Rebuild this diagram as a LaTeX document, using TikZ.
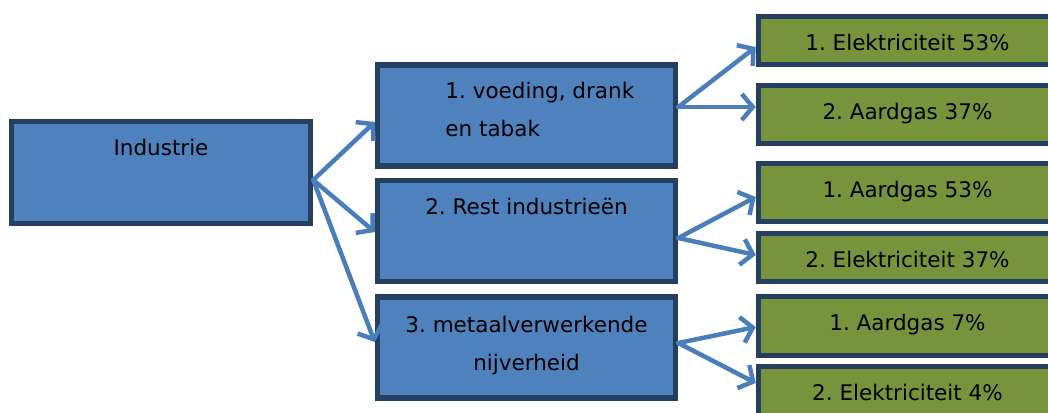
\documentclass[tikz,border=0pt]{standalone}
\usepackage{fontspec}
\setmainfont{DejaVu Sans}
\usepackage{xcolor}
\usetikzlibrary{arrows.meta, positioning}
\definecolor{boxblue}{HTML}{4F81BD}
\definecolor{boxedge}{HTML}{243F60}
\definecolor{boxgreen}{HTML}{77933C}
\definecolor{arrowblue}{HTML}{4A7EBB}
\frenchspacing

\begin{document}
\begin{tikzpicture}[x=1pt, y=-1pt,
  blok/.style={draw=boxedge, line width=5.5pt, minimum width=298pt, inner sep=0pt},
  sector/.style={blok, fill=boxblue, minimum height=101pt},
  bron/.style={blok, fill=boxgreen},
  tekst/.style={anchor=base, inner sep=0pt, font=\fontsize{21.5}{38}\selectfont},
  pijl/.style={draw=arrowblue, line width=4.5pt, line cap=round, -{Straight Barb[length=11pt, width=26pt]}}]
\useasboundingbox (0,0) rectangle (1048,412);
\clip (0,0) rectangle (1048,412);
% industrie
\node[blok, fill=boxblue, minimum width=299pt, minimum height=102pt] (ind) at (161,172.5) {};
\node[tekst] (indtxt) at ([yshift=-36.5pt]ind.north) {Industrie};
% sectoren
\node[sector] (voed) at (526.5,115.5) {};
\node[sector] (rest) at (526.5,231) {};
\node[sector] (metaal) at (526.5,347.5) {};
\node[tekst, anchor=base west, align=left] (voedtxt) at ([xshift=70.5pt, yshift=-74.5pt]voed.north west) {1. voeding, drank\\en tabak};
\node[tekst] (resttxt) at ([yshift=-36.5pt]rest.north) {2. Rest industrieën};
\node[tekst, align=center] (metaaltxt) at ([yshift=-76.5pt]metaal.north) {3. metaalverwerkende\\nijverheid};
% energiebronnen
\node[bron, minimum height=48pt] (v1) at (907.5,40.5) {};
\node[bron, minimum height=58pt] (v2) at (907.5,114.5) {};
\node[bron, minimum height=58pt] (r1) at (907.5,192.5) {};
\node[bron, minimum height=48pt] (r2) at (907.5,257.5) {};
\node[bron, minimum height=59pt] (m1) at (907.5,326) {};
\node[bron, minimum height=58pt] (m2) at (907.5,395.5) {};
\node[tekst] (v1txt) at ([yshift=-36.5pt]v1.north) {1. Elektriciteit 53\%};
\node[tekst] (v2txt) at ([yshift=-36.5pt]v2.north) {2. Aardgas 37\%};
\node[tekst] (r1txt) at ([yshift=-36.5pt]r1.north) {1. Aardgas 53\%};
\node[tekst] (r2txt) at ([yshift=-36.5pt]r2.north) {2. Elektriciteit 37\%};
\node[tekst] (m1txt) at ([yshift=-36.5pt]m1.north) {1. Aardgas 7\%};
\node[tekst] (m2txt) at ([yshift=-36.5pt]m2.north) {2. Elektriciteit 4\%};
% pijlen
\draw[pijl] ([yshift=-7.5pt]ind.east) -- ([yshift=-6.5pt]voed.west);
\draw[pijl] ([yshift=-7.5pt]ind.east) -- ([yshift=-1pt]rest.west);
\draw[pijl] ([yshift=-7.5pt]ind.east) -- ([yshift=5.5pt]metaal.west);
\draw[pijl] ([yshift=8.5pt]voed.east) -- ([yshift=-6.5pt]v1.west);
\draw[pijl] ([yshift=8.5pt]voed.east) -- ([yshift=7.5pt]v2.west);
\draw[pijl] ([yshift=-7pt]rest.east) -- ([yshift=-4.5pt]r1.west);
\draw[pijl] ([yshift=-7pt]rest.east) -- ([yshift=2.5pt]r2.west);
\draw[pijl] ([yshift=4.5pt]metaal.east) -- ([yshift=-1pt]m1.west);
\draw[pijl] ([yshift=4.5pt]metaal.east) -- ([yshift=12.5pt]m2.west);
\end{tikzpicture}
\end{document}
